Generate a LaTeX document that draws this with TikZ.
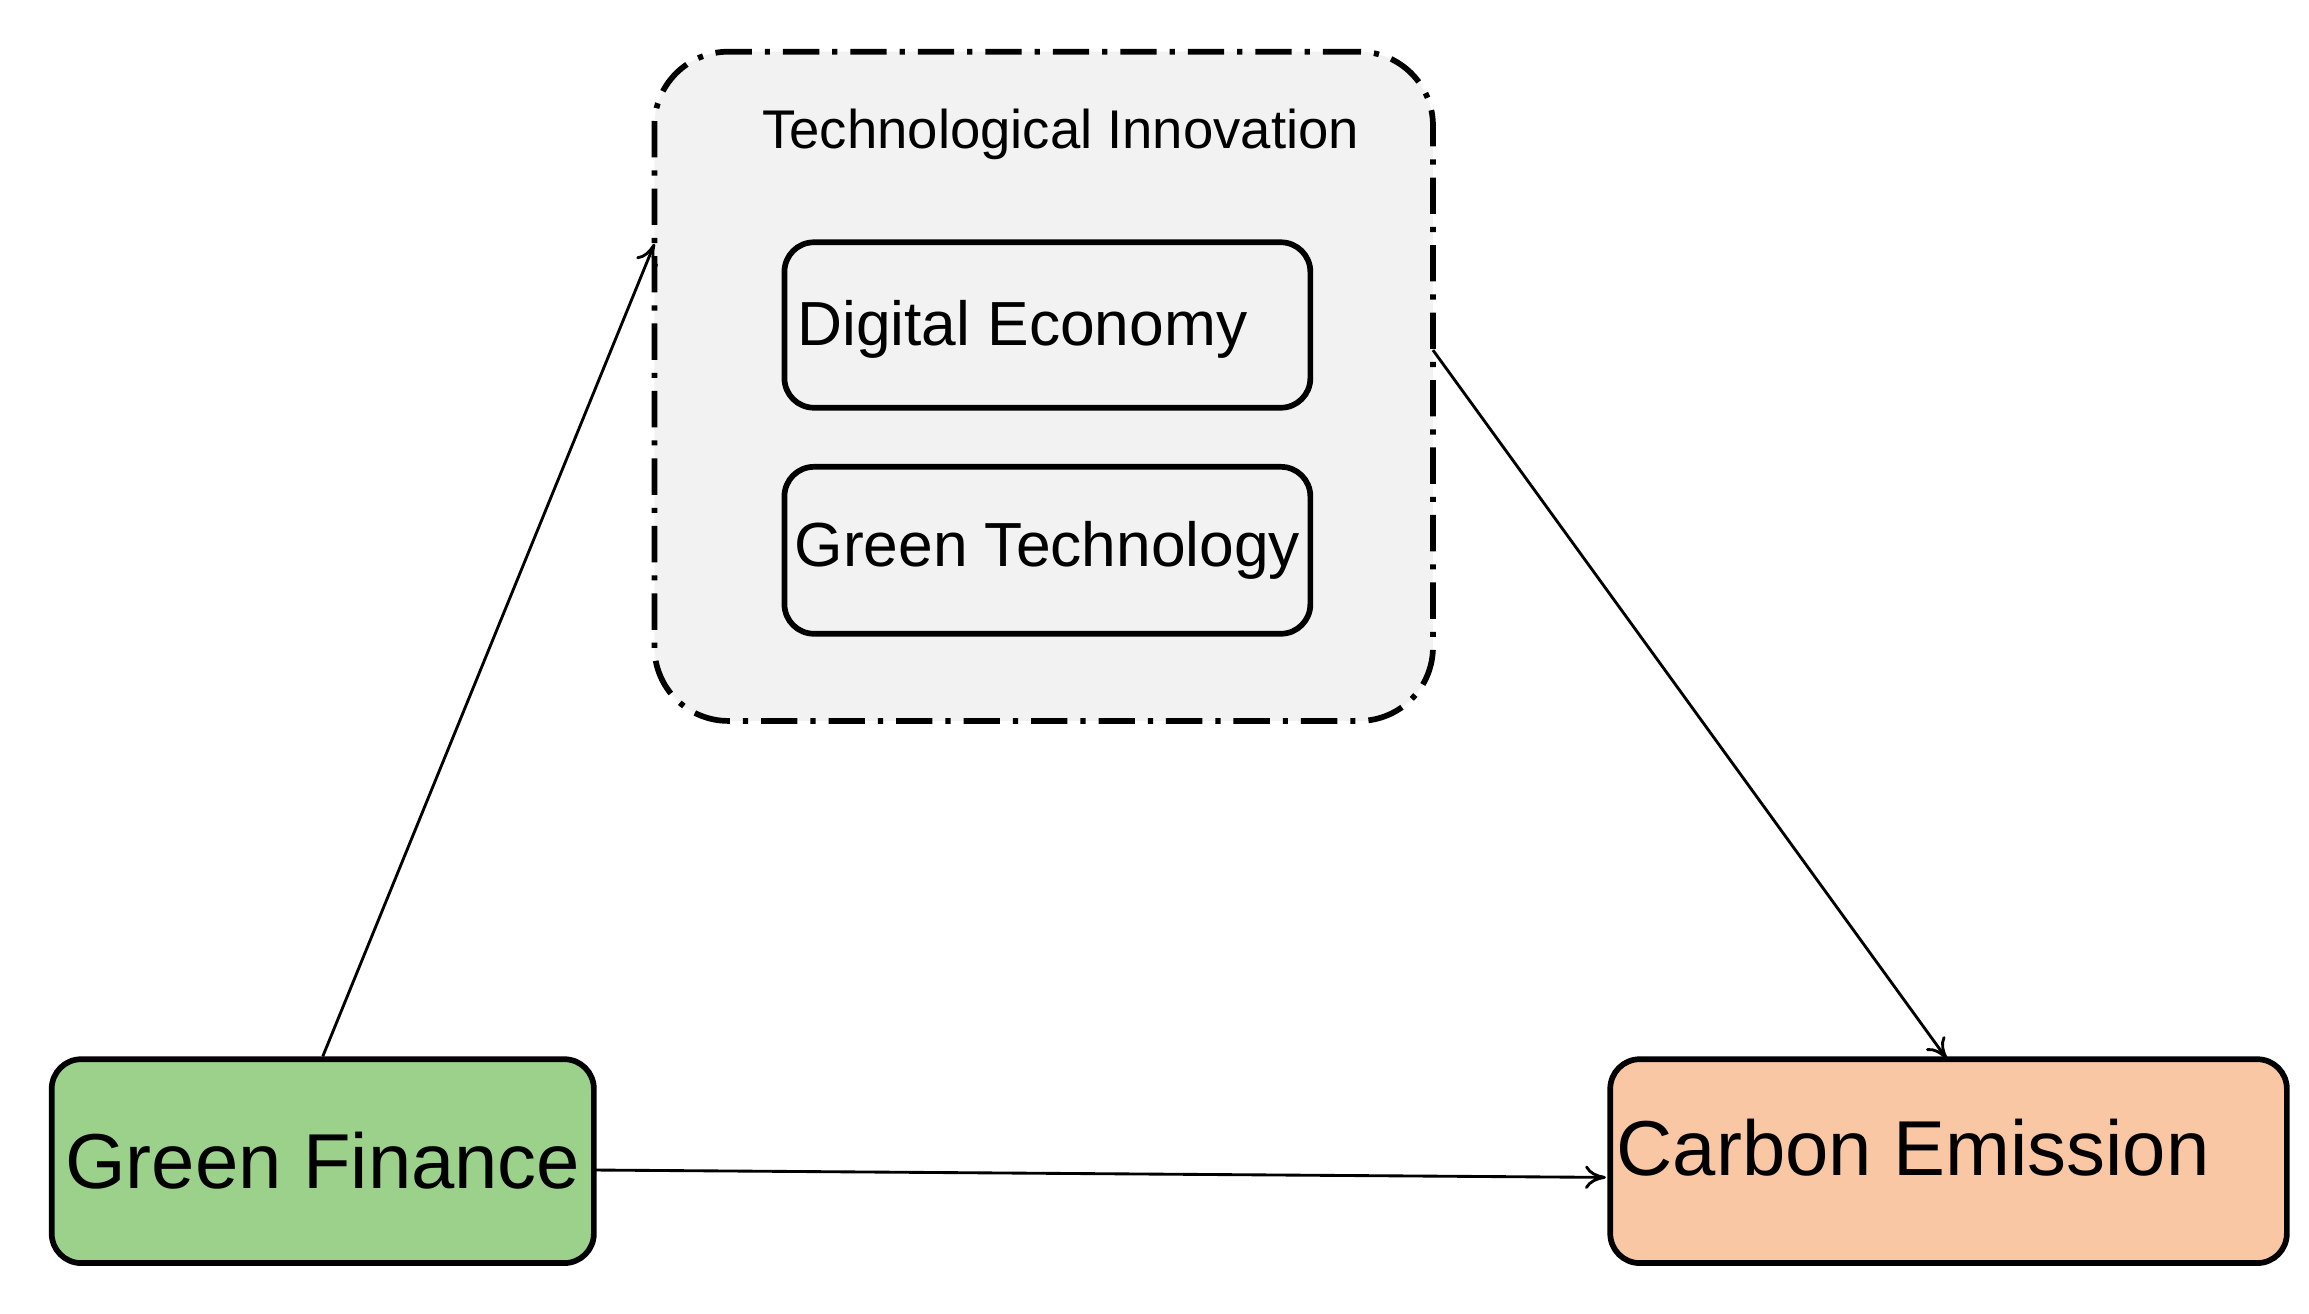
\documentclass[tikz,border=0pt]{standalone}
\usepackage{fontspec}
\setmainfont{Liberation Sans}
\usetikzlibrary{arrows.meta}
\begin{document}
\begin{tikzpicture}[x=0.02cm,y=-0.02cm,
  box/.style={draw,line width=2.2pt,rounded corners=0.4cm,inner sep=0pt},
  arr/.style={line width=1.1pt,-{To[length=8pt,width=9pt]}}]
\useasboundingbox (0,0) rectangle (1563,889);
\node[box,fill=black!5,dash pattern=on 14pt off 5pt on 2pt off 5pt,rounded corners=1cm,
  minimum width=527*0.02cm,minimum height=453*0.02cm] (ti) at (706.5,261.5) {};
\node[font=\fontsize{21}{24}\selectfont] (tit) at (718,91) {Technological Innovation};
\node[box,minimum width=356*0.02cm,minimum height=112*0.02cm] (de) at (709,220) {};
\node[font=\fontsize{24}{28}\selectfont] at (692,223) {Digital Economy};
\node[box,minimum width=356*0.02cm,minimum height=113*0.02cm,font=\fontsize{24}{28}\selectfont] (gt) at (709,372.5) {Green Technology};
\node[box,fill={rgb,255:red,155;green,209;blue,139},minimum width=367*0.02cm,minimum height=138*0.02cm,font=\fontsize{30}{34}\selectfont] (gf) at (218.5,786) {Green Finance};
\node[box,fill={rgb,255:red,250;green,199;blue,164},minimum width=458*0.02cm,minimum height=138*0.02cm] (ce) at (1319,786) {};
\node[font=\fontsize{30}{34}\selectfont] at (1295,777) {Carbon Emission};
\coordinate (tiL) at (443,165);
\coordinate (tiR) at (970,237);
\coordinate (gfR) at (402,792);
\coordinate (ceL) at (1087,797);
\coordinate (ceT) at (1318,717);
\draw[arr] (gf.north) -- (tiL);
\draw[arr] (tiR) -- (ceT);
\draw[arr] (gfR) -- (ceL);
\end{tikzpicture}
\end{document}
